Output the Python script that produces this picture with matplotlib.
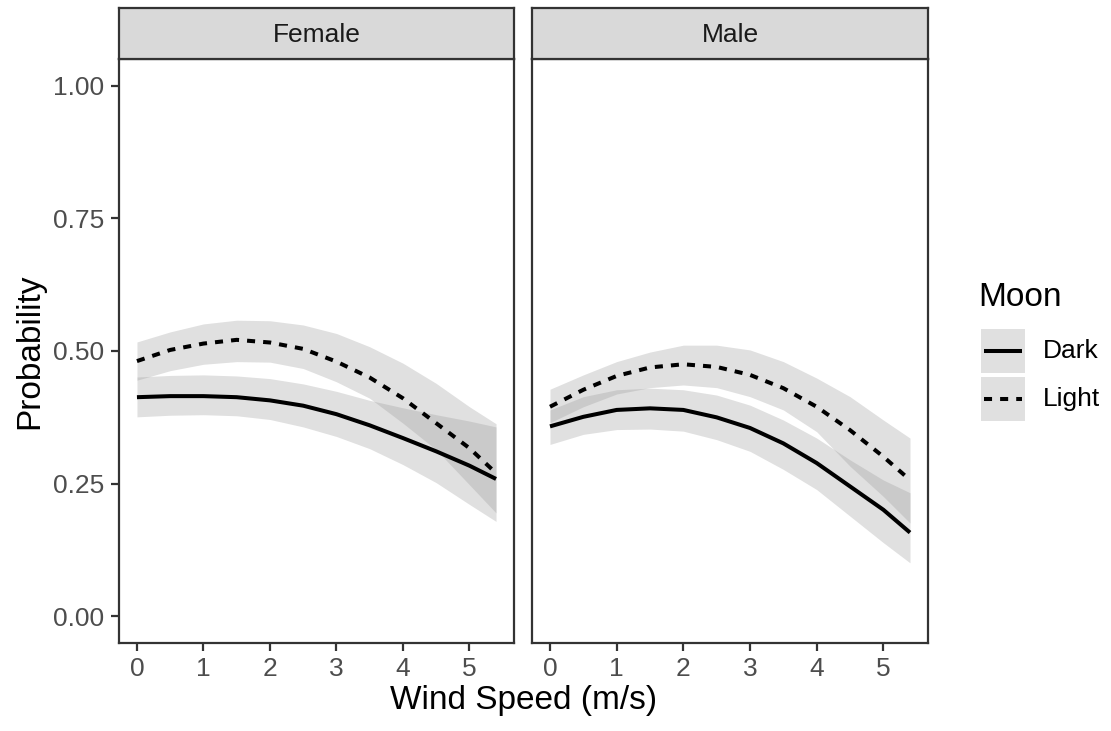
import matplotlib
matplotlib.use("Agg")
import matplotlib.pyplot as plt
from matplotlib.patches import Rectangle

plt.rcParams['font.family'] = ['Liberation Sans', 'DejaVu Sans']

# ---- data ----
wind = [0, 0.5, 1, 1.5, 2, 2.5, 3, 3.5, 4, 4.5, 5, 5.4]
panels = ["Female", "Male"]
moon_levels = ["Dark", "Light"]

female_dark_fit = [0.413, 0.415, 0.415, 0.413, 0.407, 0.397, 0.381, 0.360, 0.336, 0.311, 0.284, 0.259]
female_dark_lo = [0.376, 0.379, 0.380, 0.378, 0.371, 0.357, 0.339, 0.316, 0.286, 0.252, 0.211, 0.179]
female_dark_hi = [0.451, 0.454, 0.455, 0.453, 0.448, 0.438, 0.424, 0.407, 0.393, 0.380, 0.368, 0.357]
female_light_fit = [0.481, 0.502, 0.514, 0.521, 0.516, 0.504, 0.480, 0.450, 0.411, 0.364, 0.317, 0.270]
female_light_lo = [0.445, 0.463, 0.475, 0.480, 0.479, 0.467, 0.442, 0.411, 0.364, 0.314, 0.248, 0.195]
female_light_hi = [0.517, 0.536, 0.551, 0.558, 0.557, 0.549, 0.533, 0.508, 0.477, 0.439, 0.395, 0.363]

male_dark_fit = [0.358, 0.376, 0.389, 0.392, 0.389, 0.375, 0.355, 0.326, 0.289, 0.245, 0.201, 0.158]
male_dark_lo = [0.324, 0.343, 0.352, 0.353, 0.349, 0.333, 0.311, 0.277, 0.239, 0.189, 0.139, 0.101]
male_dark_hi = [0.389, 0.414, 0.427, 0.430, 0.427, 0.417, 0.398, 0.370, 0.336, 0.295, 0.257, 0.233]
male_light_fit = [0.395, 0.427, 0.453, 0.469, 0.475, 0.470, 0.455, 0.430, 0.395, 0.351, 0.301, 0.257]
male_light_lo = [0.365, 0.395, 0.419, 0.431, 0.436, 0.431, 0.414, 0.389, 0.348, 0.283, 0.226, 0.176]
male_light_hi = [0.428, 0.455, 0.480, 0.498, 0.511, 0.511, 0.502, 0.480, 0.449, 0.414, 0.370, 0.336]

series = {
    "Female": {"Dark": (female_dark_fit, female_dark_lo, female_dark_hi),
               "Light": (female_light_fit, female_light_lo, female_light_hi)},
    "Male": {"Dark": (male_dark_fit, male_dark_lo, male_dark_hi),
             "Light": (male_light_fit, male_light_lo, male_light_hi)},
}

x_ticks = [0, 1, 2, 3, 4, 5]
y_ticks = [0.00, 0.25, 0.50, 0.75, 1.00]
y_ticklabels = ["0.00", "0.25", "0.50", "0.75", "1.00"]

# ---- style ----
W, H = 1111, 731
fig = plt.figure(figsize=(W / 100, H / 100), dpi=100)
GREY20 = "#333333"
GREY30 = "#4D4D4D"
RIBBON = "#999999"
LW = 2.9
styles = {"Dark": dict(linestyle="-"), "Light": dict(linestyle=(0, (2, 2)))}

def px_axes(x0, y0, x1, y1, **kw):
    return fig.add_axes([x0 / W, 1 - y1 / H, (x1 - x0) / W, (y1 - y0) / H], **kw)

panel_px = {"Female": (119, 514), "Male": (532, 928)}
ptop, pbot = 59, 643
stop = 8

xmin, xmax = min(wind), max(wind)
xr = xmax - xmin

for i, name in enumerate(panels):
    x0, x1 = panel_px[name]
    ax = px_axes(x0, ptop, x1, pbot)
    for lvl in moon_levels:
        fit, lo, hi = series[name][lvl]
        ax.fill_between(wind, lo, hi, color=RIBBON, alpha=0.3, linewidth=0)
    for lvl in moon_levels:
        fit, lo, hi = series[name][lvl]
        ax.plot(wind, fit, color="black", lw=LW, solid_capstyle="butt",
                dash_capstyle="butt", solid_joinstyle="round", **styles[lvl])
    ax.set_xlim(xmin - 0.05 * xr, xmax + 0.05 * xr)
    ax.set_ylim(-0.05, 1.05)
    ax.set_xticks(x_ticks)
    ax.set_xticklabels([str(t) for t in x_ticks])
    ax.set_yticks(y_ticks)
    if i == 0:
        ax.set_yticklabels(y_ticklabels)
        ax.tick_params(axis="y", length=5.8, width=1.6, color=GREY20,
                       labelsize=19, labelcolor=GREY30, pad=5)
    else:
        ax.tick_params(axis="y", left=False, labelleft=False)
    ax.tick_params(axis="x", length=5.8, width=1.6, color=GREY20,
                   labelsize=19, labelcolor=GREY30, pad=4)
    for sp in ax.spines.values():
        sp.set_color(GREY20)
        sp.set_linewidth(1.6)
    # strip
    sax = px_axes(x0, stop, x1, ptop)
    sax.set_facecolor("#D9D9D9")
    sax.set_xticks([])
    sax.set_yticks([])
    for sp in sax.spines.values():
        sp.set_color(GREY20)
        sp.set_linewidth(1.6)
    sax.text(0.5, 0.47, name, transform=sax.transAxes, ha="center", va="center",
             fontsize=19, color="#1A1A1A")

# axis titles
fig.text(523.5 / W, 1 - 700 / H, "Wind Speed (m/s)", ha="center", va="center",
         fontsize=24, color="black")
fig.text(30 / W, 1 - 351 / H, "Probability", ha="center", va="center",
         rotation=90, fontsize=24, color="black")

# legend (drawn in a pixel-coordinate axes, y downward)
lax = px_axes(970, 270, 1111, 430)
lax.set_xlim(970, 1111)
lax.set_ylim(430, 270)
lax.axis("off")
lax.text(978, 297, "Moon", ha="left", va="center", fontsize=24, color="black")
key_x0, key_w, key_h = 981, 44, 44
for k, lvl in enumerate(moon_levels):
    ky = 329 + k * 48
    lax.add_patch(Rectangle((key_x0, ky), key_w, key_h, facecolor=RIBBON,
                            alpha=0.3, edgecolor="none"))
    lax.plot([key_x0 + 3, key_x0 + key_w - 3], [ky + key_h / 2] * 2, color="black",
             lw=LW, solid_capstyle="butt", dash_capstyle="butt", **styles[lvl])
    lax.text(1043, ky + key_h / 2, lvl, ha="left", va="center", fontsize=19,
             color="black")

fig.savefig("out.png", dpi=100)
